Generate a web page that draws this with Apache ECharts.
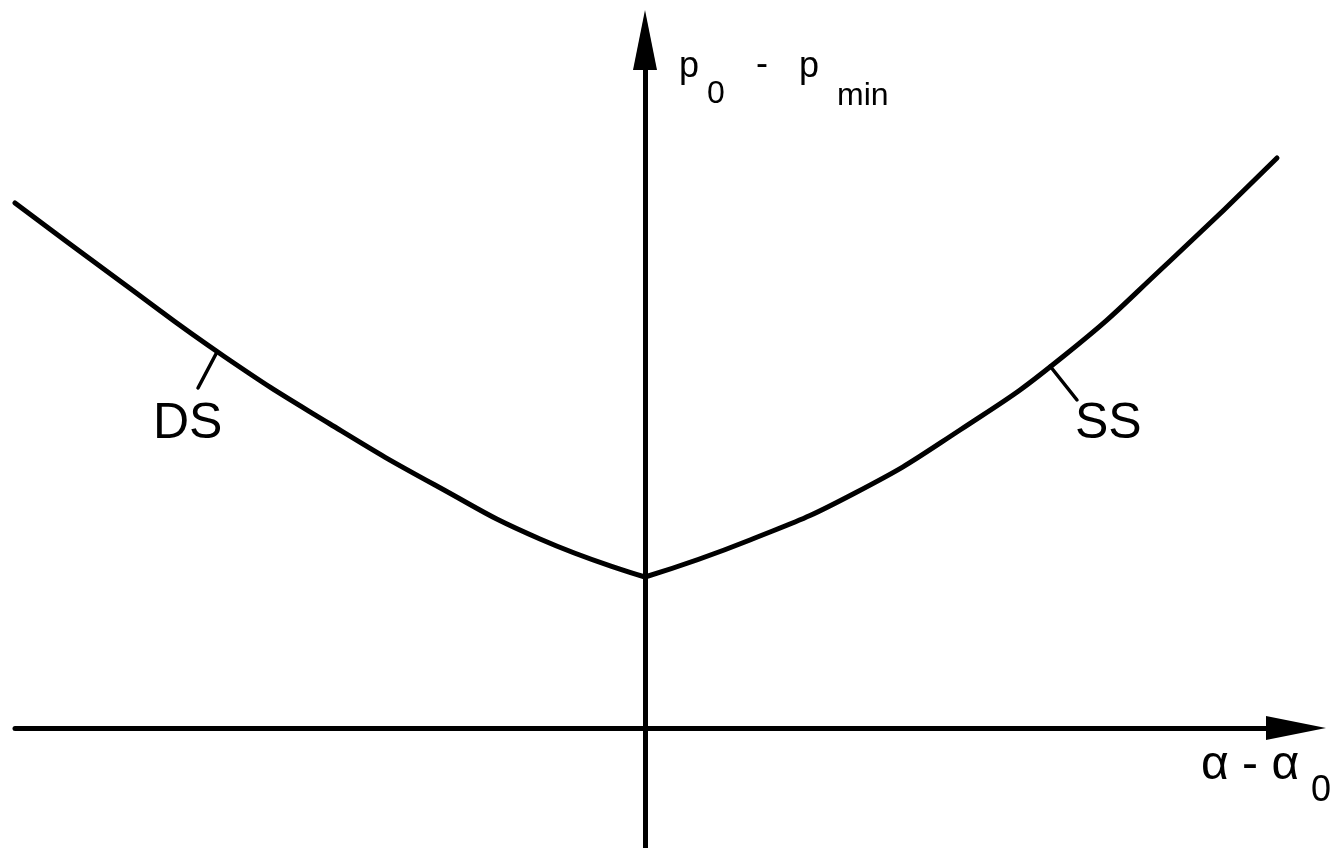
<!DOCTYPE html>
<html>
<head>
<meta charset="utf-8">
<script src="https://cdn.jsdelivr.net/npm/echarts@6/dist/echarts.min.js"></script>
<style>
  html, body { margin: 0; padding: 0; background: #fff; }
  #chart { width: 1339px; height: 848px; }
</style>
</head>
<body>
<div id="chart"></div>
<script>
// curve, x = alpha - alpha0, y = p0 - pmin (arbitrary units)
const dsX = [-6.30, -5.25, -4.20, -3.15, -2.10, -1.05, 0];
const dsY = [5.25, 4.47, 3.71, 3.04, 2.43, 1.89, 1.51];
const ssX = [0, 1.05, 2.10, 3.15, 4.20, 5.25, 6.32];
const ssY = [1.51, 1.88, 2.35, 2.98, 3.73, 4.67, 5.70];

// short leader strokes from the curve to the DS / SS labels
const dsLeaderX = [-4.28, -4.47];
const dsLeaderY = [3.76, 3.40];
const ssLeaderX = [4.05, 4.32];
const ssLeaderY = [3.62, 3.28];

const zip = (xs, ys) => xs.map((x, i) => [x, ys[i]]);

const chart = echarts.init(document.getElementById('chart'));

const font = 'Liberation Sans, Arial, sans-serif';
const txt = (x, y, text, size) => ({
  type: 'text',
  left: x,
  top: y,
  style: { text: text, font: size + 'px ' + font, fill: '#000' }
});

const lineStyle = { color: '#000', width: 5, cap: 'round' };
const leaderStyle = { color: '#000', width: 3.5, cap: 'round' };

const option = {
  animation: false,
  backgroundColor: '#fff',
  grid: { left: 15, right: 43, top: 40, bottom: 0 },
  xAxis: {
    type: 'value',
    min: -6.30,
    max: 6.51,
    axisLine: {
      onZero: true,
      symbol: ['none', 'triangle'],
      symbolSize: [24, 60],
      lineStyle: { color: '#000', width: 5 }
    },
    axisTick: { show: false },
    axisLabel: { show: false },
    splitLine: { show: false }
  },
  yAxis: {
    type: 'value',
    min: -1.20,
    max: 6.88,
    axisLine: {
      onZero: true,
      symbol: ['none', 'triangle'],
      symbolSize: [24, 60],
      lineStyle: { color: '#000', width: 5 }
    },
    axisTick: { show: false },
    axisLabel: { show: false },
    splitLine: { show: false }
  },
  series: [
    {
      name: 'DS',
      type: 'line',
      data: zip(dsX, dsY),
      smooth: 0.5,
      showSymbol: false,
      lineStyle: lineStyle
    },
    {
      name: 'SS',
      type: 'line',
      data: zip(ssX, ssY),
      smooth: 0.5,
      showSymbol: false,
      lineStyle: lineStyle
    },
    {
      type: 'line',
      data: zip(dsLeaderX, dsLeaderY),
      showSymbol: false,
      lineStyle: leaderStyle
    },
    {
      type: 'line',
      data: zip(ssLeaderX, ssLeaderY),
      showSymbol: false,
      lineStyle: leaderStyle
    }
  ],
  graphic: [
    // y axis title: p0 - pmin
    txt(679, 49, 'p', 36),
    txt(707, 78, '0', 32),
    txt(756, 47, '-', 36),
    txt(799, 49, 'p', 36),
    txt(837, 80, 'min', 32),
    // x axis title: alpha - alpha0
    txt(1201, 742, 'α - α', 48),
    txt(1311, 773, '0', 36),
    // branch labels
    txt(153, 399, 'DS', 50),
    txt(1075, 399, 'SS', 50)
  ]
};

chart.setOption(option);
</script>
</body>
</html>
